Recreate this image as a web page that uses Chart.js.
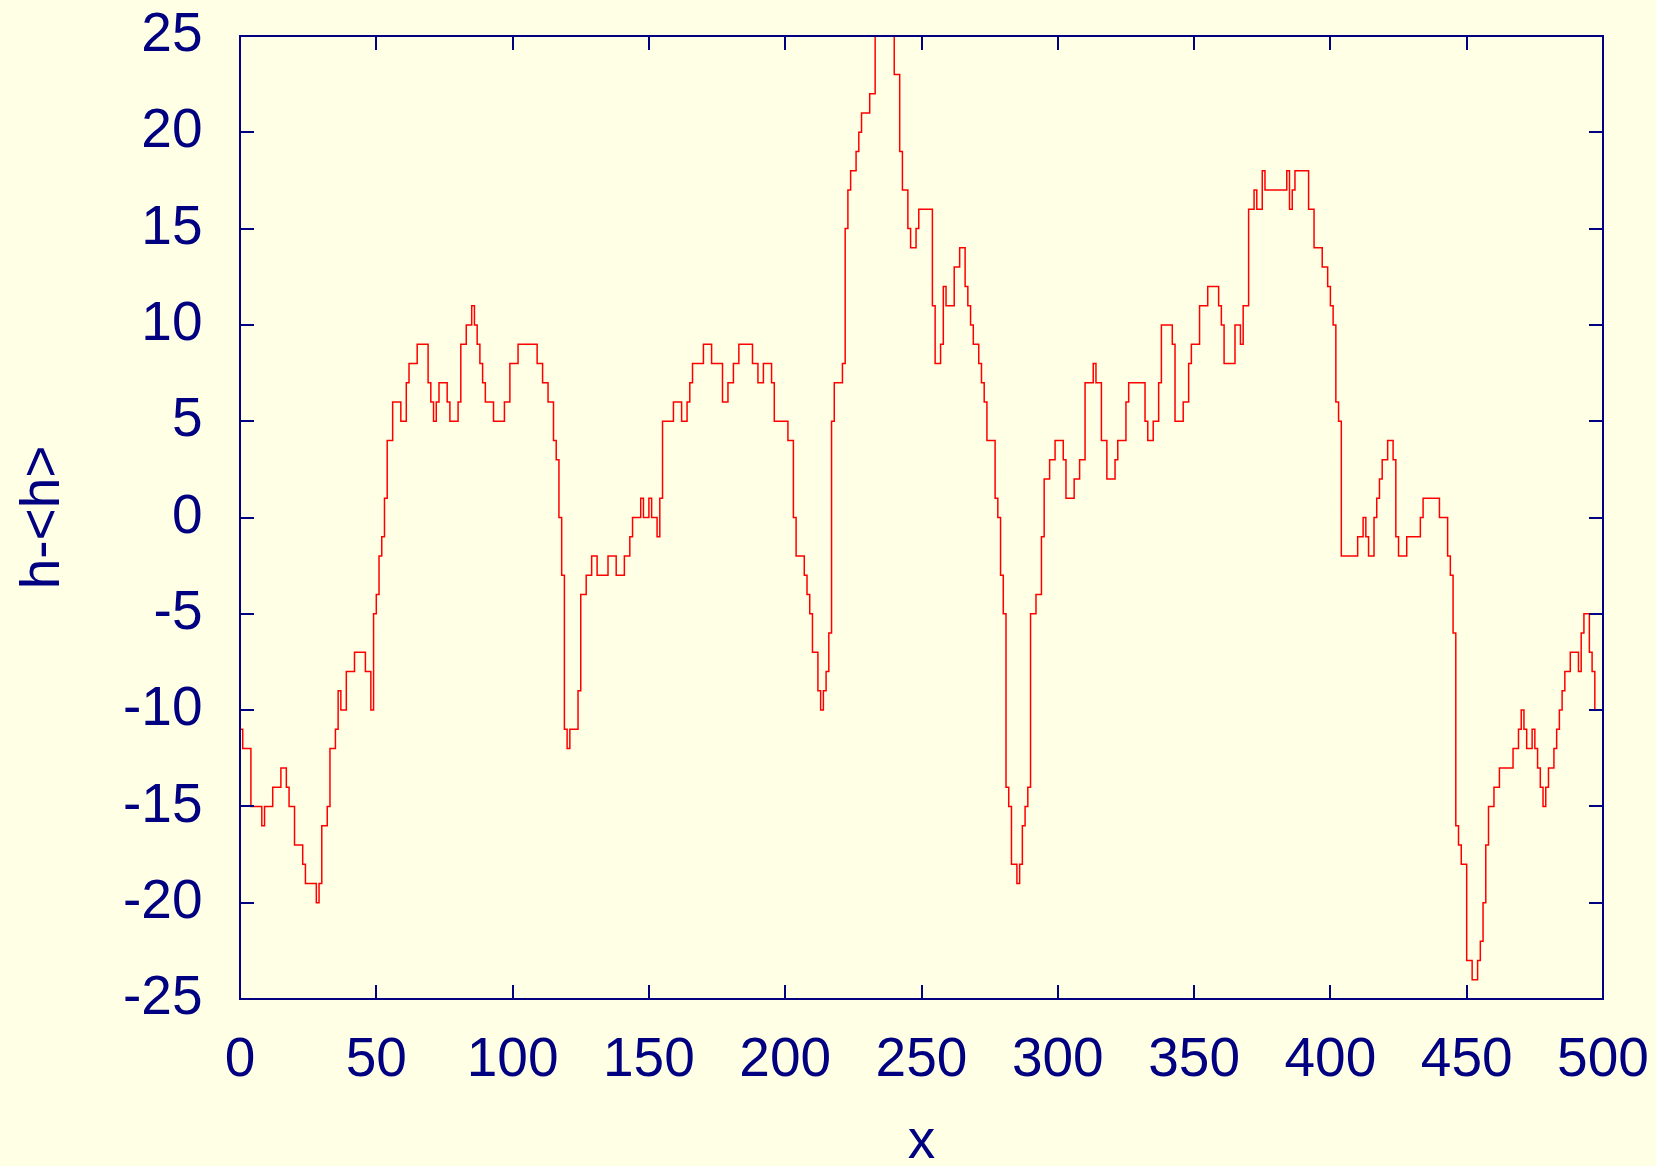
<!DOCTYPE html>
<html>
<head>
<meta charset="utf-8">
<script src="https://cdn.jsdelivr.net/npm/chart.js@4.4.1/dist/chart.umd.min.js"></script>
<style>
  html, body { margin: 0; padding: 0; background: #ffffe6; }
  canvas { display: block; }
</style>
</head>
<body>
<canvas id="chart" width="1656" height="1166"></canvas>
<script>
// Height fluctuation h-<h> at each lattice site x = 0 .. 500
const heightValues = [
  -11, -12, -12, -12, -15, -15, -15, -15, -16, -15,
  -15, -15, -14, -14, -14, -13, -13, -14, -15, -15,
  -17, -17, -17, -18, -19, -19, -19, -19, -20, -19,
  -16, -16, -15, -12, -12, -11, -9, -10, -10, -8,
  -8, -8, -7, -7, -7, -7, -8, -8, -10, -5,
  -4, -2, -1, 1, 4, 4, 6, 6, 6, 5,
  5, 7, 8, 8, 8, 9, 9, 9, 9, 7,
  6, 5, 6, 7, 7, 7, 6, 5, 5, 5,
  6, 9, 9, 10, 10, 11, 10, 9, 8, 7,
  6, 6, 6, 5, 5, 5, 5, 6, 6, 8,
  8, 8, 9, 9, 9, 9, 9, 9, 9, 8,
  8, 7, 7, 6, 6, 4, 3, 0, -3, -11,
  -12, -11, -11, -11, -9, -4, -4, -3, -3, -2,
  -2, -3, -3, -3, -3, -2, -2, -2, -3, -3,
  -3, -2, -2, -1, 0, 0, 0, 1, 0, 0,
  1, 0, 0, -1, 1, 5, 5, 5, 5, 6,
  6, 6, 5, 5, 6, 7, 8, 8, 8, 8,
  9, 9, 9, 8, 8, 8, 8, 6, 6, 7,
  7, 8, 8, 9, 9, 9, 9, 9, 8, 8,
  7, 7, 8, 8, 8, 7, 5, 5, 5, 5,
  5, 4, 4, 0, -2, -2, -2, -3, -4, -5,
  -7, -7, -9, -10, -9, -8, -6, 5, 7, 7,
  7, 8, 15, 17, 18, 18, 19, 20, 21, 21,
  21, 22, 22, 25, 25, 25, 25, 25, 25, 25,
  23, 23, 19, 17, 17, 15, 14, 14, 15, 16,
  16, 16, 16, 16, 11, 8, 8, 9, 12, 11,
  11, 11, 13, 13, 14, 14, 12, 11, 10, 9,
  9, 8, 7, 6, 4, 4, 4, 1, 0, -3,
  -5, -14, -15, -18, -18, -19, -18, -16, -15, -14,
  -5, -5, -4, -4, -1, 2, 2, 3, 3, 4,
  4, 4, 3, 1, 1, 1, 2, 2, 3, 3,
  7, 7, 7, 8, 7, 7, 4, 4, 2, 2,
  2, 3, 4, 4, 4, 6, 7, 7, 7, 7,
  7, 7, 5, 4, 4, 5, 5, 7, 10, 10,
  10, 10, 9, 5, 5, 5, 6, 6, 8, 9,
  9, 9, 11, 11, 11, 12, 12, 12, 12, 11,
  10, 8, 8, 8, 8, 10, 10, 9, 11, 11,
  16, 16, 17, 16, 16, 18, 17, 17, 17, 17,
  17, 17, 17, 17, 18, 16, 17, 18, 18, 18,
  18, 18, 16, 16, 14, 14, 14, 13, 13, 12,
  11, 10, 6, 5, -2, -2, -2, -2, -2, -2,
  -1, -1, 0, -1, -2, -2, 0, 1, 2, 3,
  3, 4, 4, 3, -1, -2, -2, -2, -1, -1,
  -1, -1, -1, 0, 1, 1, 1, 1, 1, 1,
  0, 0, 0, -2, -3, -6, -16, -17, -18, -18,
  -23, -23, -24, -24, -23, -22, -20, -17, -15, -15,
  -14, -14, -13, -13, -13, -13, -13, -12, -12, -11,
  -10, -11, -12, -12, -11, -12, -13, -14, -15, -14,
  -13, -13, -12, -11, -10, -9, -8, -8, -7, -7,
  -7, -8, -6, -5, -5, -7, -8, -10, -10, -10,
  0
];
// lattice site index for each value
const sites = heightValues.map((_, i) => i);

const xTickValues = [0, 50, 100, 150, 200, 250, 300, 350, 400, 450, 500];
const xTickLabels = ['0', '50', '100', '150', '200', '250', '300', '350', '400', '450', '500'];
const yTickValues = [-25, -20, -15, -10, -5, 0, 5, 10, 15, 20, 25];
const yTickLabels = ['-25', '-20', '-15', '-10', '-5', '0', '5', '10', '15', '20', '25'];

const INK = '#000080';
const FONT = { family: "'Liberation Sans', Arial, sans-serif", size: 55 };

// border box with inward tick marks on all four sides
const framePlugin = {
  id: 'frame',
  afterDatasetsDraw(chart) {
    const { ctx, chartArea: a, scales } = chart;
    const len = 14;
    ctx.save();
    ctx.strokeStyle = INK;
    ctx.lineWidth = 2;
    ctx.beginPath();
    xTickValues.forEach(v => {
      const px = Math.round(scales.x.getPixelForValue(v));
      ctx.moveTo(px, a.bottom); ctx.lineTo(px, a.bottom - len);
      ctx.moveTo(px, a.top); ctx.lineTo(px, a.top + len);
    });
    yTickValues.forEach(v => {
      const py = Math.round(scales.y.getPixelForValue(v));
      ctx.moveTo(a.left, py); ctx.lineTo(a.left + len, py);
      ctx.moveTo(a.right, py); ctx.lineTo(a.right - len, py);
    });
    ctx.stroke();
    ctx.strokeRect(a.left, a.top, a.right - a.left, a.bottom - a.top);
    ctx.restore();
  }
};

new Chart(document.getElementById('chart'), {
  type: 'line',
  data: {
    datasets: [{
      data: sites.map((x, i) => ({ x, y: heightValues[i] })),
      stepped: true,
      borderColor: '#ff0000',
      borderWidth: 1.5,
      pointRadius: 0,
      fill: false
    }]
  },
  options: {
    responsive: false,
    animation: false,
    devicePixelRatio: 1,
    layout: { padding: { top: 36, right: 53, bottom: 0, left: 0 } },
    plugins: { legend: { display: false }, tooltip: { enabled: false } },
    scales: {
      x: {
        type: 'linear',
        min: 0, max: 500,
        afterBuildTicks: s => { s.ticks = xTickValues.map(v => ({ value: v })); },
        afterFit: s => { s.height = 167; s.paddingLeft = 0; s.paddingRight = 0; },
        grid: { display: false },
        border: { display: false },
        ticks: {
          color: INK, font: FONT, padding: 21, maxRotation: 0, autoSkip: false,
          callback: v => xTickLabels[xTickValues.indexOf(v)]
        },
        title: {
          display: true, text: 'x', color: INK,
          font: { ...FONT, lineHeight: 0.8 },
          padding: { top: 0, bottom: 1 }
        }
      },
      y: {
        type: 'linear',
        min: -25, max: 25,
        afterBuildTicks: s => { s.ticks = yTickValues.map(v => ({ value: v })); },
        afterFit: s => { s.width = 240; s.paddingTop = 0; s.paddingBottom = 0; },
        grid: { display: false },
        border: { display: false },
        ticks: {
          color: INK, font: FONT, padding: 29.5, autoSkip: false,
          callback: v => yTickLabels[yTickValues.indexOf(v)]
        },
        title: {
          display: true, text: 'h-<h>', color: INK,
          font: { ...FONT, lineHeight: 1 },
          padding: { top: 16.5, bottom: 0 }
        }
      }
    }
  },
  plugins: [framePlugin]
});
</script>
</body>
</html>
